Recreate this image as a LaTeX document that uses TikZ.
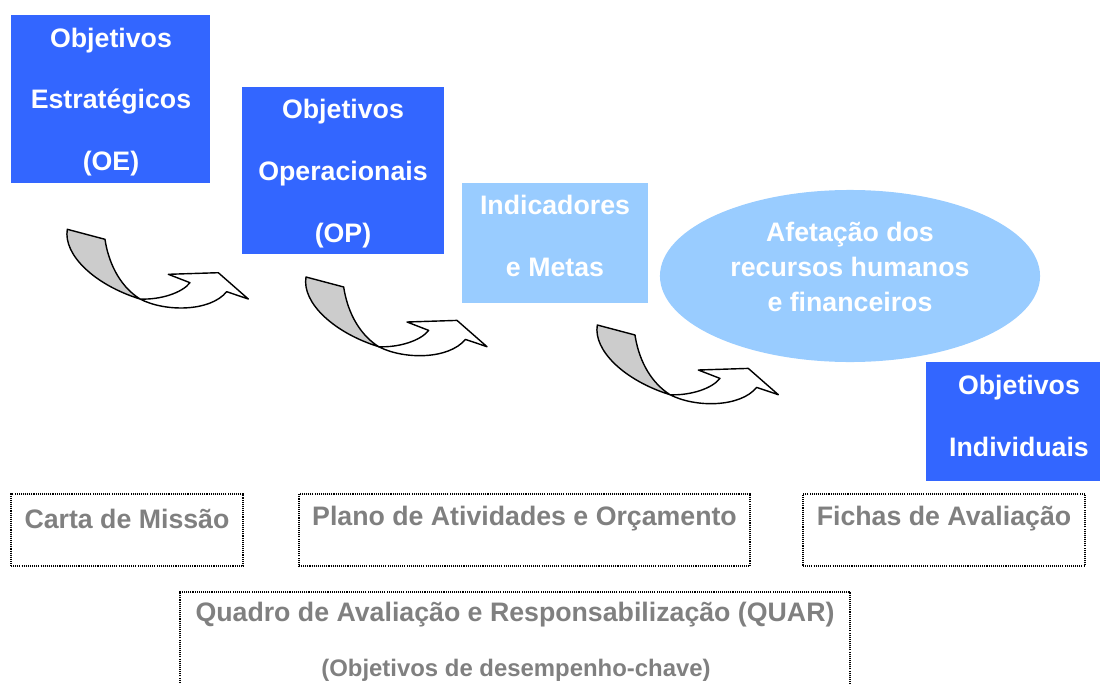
\documentclass[tikz,border=0pt]{standalone}
\usepackage{fontspec}
\setmainfont{Liberation Sans}
\usepackage{tikz}
\usetikzlibrary{shapes.geometric, positioning}

\definecolor{oeblue}{HTML}{3366FF}
\definecolor{metablue}{HTML}{99CCFF}
\definecolor{labelgrey}{HTML}{808080}
\definecolor{ribbongrey}{HTML}{CCCCCC}

\tikzset{
    bluebox/.style={fill=oeblue, inner sep=0pt},
    paleshape/.style={fill=metablue, inner sep=0pt},
    boxtext/.style={text=white, align=center, font=\bfseries\fontsize{19}{44}\selectfont},
    dotbox/.style={draw, dash pattern=on 0.75pt off 0.75pt, line width=0.9pt},
    greylabel/.style={text=labelgrey, font=\bfseries\fontsize{19}{23}\selectfont},
    ribbon/.style={draw=black, line width=1pt, line join=round},
    % twisted curved arrow, origin at its upper left corner
    twistarrow/.pic={
        \draw[ribbon, fill=white] (72.7,69.7)
            .. controls (97.7,82.7) and (142.7,82.7) .. (159.4,62.4)
            -- (181,69.7) -- (151,43.4) -- (101,45) -- (122.7,53.4)
            .. controls (114.7,63.7) and (92.7,70.7) .. cycle;
        \draw[ribbon, fill=ribbongrey] (0,0) -- (37.7,10)
            .. controls (40.7,30.7) and (50.7,55.7) .. (72.7,69.7)
            .. controls (27.7,55.7) and (-4.3,25.7) .. cycle;
    }
}

\begin{document}
\begin{tikzpicture}[x=0.025cm, y=-0.025cm]
    \clip (0,0) rectangle (1100,684);

    % Objectives and resources
    \node[bluebox, minimum width=4.975cm, minimum height=4.2cm] (oe) at (110.5,99) {};
    \node[boxtext] (oetxt) at (111,102) {Objetivos\\Estratégicos\\(OE)};
    \node[bluebox, minimum width=5.05cm, minimum height=4.175cm] (op) at (343,170.5) {};
    \node[boxtext] (optxt) at (343,173.5) {Objetivos\\Operacionais\\(OP)};
    \node[paleshape, minimum width=4.65cm, minimum height=3cm] (metas) at (555,243) {};
    \node[boxtext] (metastxt) at (555,236) {Indicadores\\e Metas};
    \node[paleshape, ellipse, minimum width=9.5cm, minimum height=4.3cm] (recursos) at (850,276) {};
    \node[boxtext, font=\bfseries\fontsize{19}{24.8}\selectfont] (recursostxt) at (850,267) {Afetação dos\\recursos humanos\\e financeiros};
    \node[bluebox, minimum width=4.35cm, minimum height=2.975cm] (indiv) at (1013,421.5) {};
    \node[boxtext] (indivtxt) at (1019,416) {Objetivos\\Individuais};

    % Twisted arrows
    \pic at (67.3,229.3) {twistarrow};
    \pic at (306,277) {twistarrow};
    \pic at (597.3,325) {twistarrow};

    % Documents
    \node[dotbox, minimum width=5.8cm, minimum height=1.8cm] (carta) at (127,530) {};
    \node[greylabel] (cartatxt) at (127,519) {Carta de Missão};
    \node[dotbox, minimum width=11.275cm, minimum height=1.8cm] (plano) at (524.5,530) {};
    \node[greylabel] (planotxt) at (524.5,519) {Plano de Atividades e Orçamento};
    \node[dotbox, minimum width=7.05cm, minimum height=1.8cm] (fichas) at (944,530) {};
    \node[greylabel] (fichastxt) at (944,519) {Fichas de Avaliação};
    \node[dotbox, minimum width=16.75cm, minimum height=2.9cm] (quar) at (515,650) {};
    \node[greylabel] (quartxt) at (515,615) {Quadro de Avaliação e Responsabilização (QUAR)};
    \node[greylabel, font=\bfseries\fontsize{17}{21}\selectfont] (quarsub) at (516,670) {(Objetivos de desempenho-chave)};
\end{tikzpicture}
\end{document}
